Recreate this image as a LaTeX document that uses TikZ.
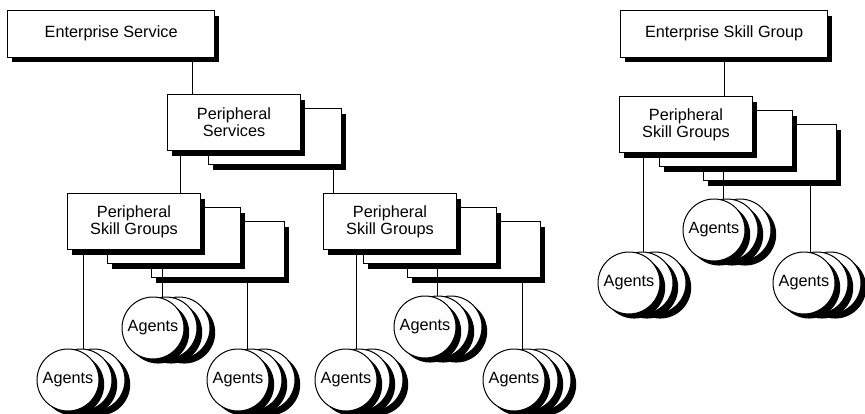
\documentclass[tikz,border=0pt]{standalone}
\usepackage{fontspec}
\setmainfont{Liberation Sans}
\usetikzlibrary{shadows,calc}

\tikzset{
  boxbase/.style={draw, fill=white, line width=0.75pt, rectangle, inner sep=0pt,
    align=center, anchor=north west, font=\fontsize{12.2}{12.6}\selectfont,
    drop shadow={shadow xshift=3.4pt, shadow yshift=-3.75pt, fill=black, opacity=1}},
  pbox/.style={boxbase, minimum width=99.75pt, minimum height=42pt},
  ebox/.style={boxbase, minimum width=155.5pt, minimum height=34.9pt},
  agent/.style={circle, draw, fill=white, line width=0.75pt, minimum size=46.5pt,
    inner sep=0pt, font=\fontsize{12.2}{12.6}\selectfont,
    drop shadow={shadow xshift=3.9pt, shadow yshift=-3.4pt, fill=black, opacity=1}},
  wire/.style={draw, line width=0.75pt}
}

% three stacked boxes: name, top-left corner, label of the front box
\newcommand\boxstack[3]{%
  \node[pbox] (#1-3) at ($(#2)+(84,28)$) {};
  \node[pbox] (#1-2) at ($(#2)+(40,14)$) {};
  \node[pbox] (#1-1) at (#2) {#3};
}
% three stacked agent circles around a centre coordinate
\newcommand\agentstack[1]{%
  \node[agent] (#1-3) at ($(#1)+(26,0)$) {};
  \node[agent] (#1-2) at ($(#1)+(13,0)$) {};
  \node[agent] (#1-1) at (#1) {Agents};
}

\begin{document}
\begin{tikzpicture}[x=0.75pt, y=-0.75pt]
\useasboundingbox (0,0) rectangle (865,414);

% anchor points
\coordinate (esP) at (7,10);
\coordinate (psP) at (167,94);
\coordinate (lP) at (67,193);
\coordinate (mP) at (323,193);
\coordinate (esgP) at (620,10);
\coordinate (rP) at (619,96);

\coordinate (lA) at (68,380);
\coordinate (lB) at (153,328);
\coordinate (lC) at (238,380);
\coordinate (mA) at (346,380);
\coordinate (mB) at (425,327);
\coordinate (mC) at (514,380);
\coordinate (rA) at (629,283);
\coordinate (rB) at (714,230);
\coordinate (rC) at (804,283);

% boxes
\node[ebox] (es) at (esP) {Enterprise Service};
\node[pbox] (ps-2) at ($(psP)+(41,14)$) {};
\node[pbox] (ps-1) at (psP) {Peripheral\\Services};
\boxstack{lpsg}{lP}{Peripheral\\Skill Groups}
\boxstack{mpsg}{mP}{Peripheral\\Skill Groups}
\node[ebox] (esg) at (esgP) {Enterprise Skill Group};
\boxstack{rpsg}{rP}{Peripheral\\Skill Groups}

% connectors between boxes
\draw[wire] ($(es.south west)+(185,0)$) coordinate (w) -- (w |- ps-1.north);
\draw[wire] ($(ps-1.south west)+(13,0)$) coordinate (w) -- (w |- lpsg-1.north);
\draw[wire] ($(ps-2.south west)+(125,0)$) coordinate (w) -- (w |- mpsg-1.north);
\draw[wire] ($(esg.south west)+(104,0)$) coordinate (w) -- (w |- rpsg-1.north);

% connectors down to the agents
\draw[wire] ($(lpsg-1.south west)+(16,0)$) coordinate (w) -- (w |- lA);
\draw[wire] ($(lpsg-2.south west)+(55,0)$) coordinate (w) -- (w |- lB);
\draw[wire] ($(lpsg-3.south west)+(96,0)$) coordinate (w) -- (w |- lC);
\draw[wire] ($(mpsg-1.south west)+(33,0)$) coordinate (w) -- (w |- mA);
\draw[wire] ($(mpsg-2.south west)+(74,0)$) coordinate (w) -- (w |- mB);
\draw[wire] ($(mpsg-3.south west)+(115,0)$) coordinate (w) -- (w |- mC);
\draw[wire] ($(rpsg-1.south west)+(24,0)$) coordinate (w) -- (w |- rA);
\draw[wire] ($(rpsg-2.south west)+(64,0)$) coordinate (w) -- (w |- rB);
\draw[wire] ($(rpsg-3.south west)+(107,0)$) coordinate (w) -- (w |- rC);

% agent circles
\agentstack{lA}
\agentstack{lB}
\agentstack{lC}
\agentstack{mA}
\agentstack{mB}
\agentstack{mC}
\agentstack{rA}
\agentstack{rB}
\agentstack{rC}
\end{tikzpicture}
\end{document}
